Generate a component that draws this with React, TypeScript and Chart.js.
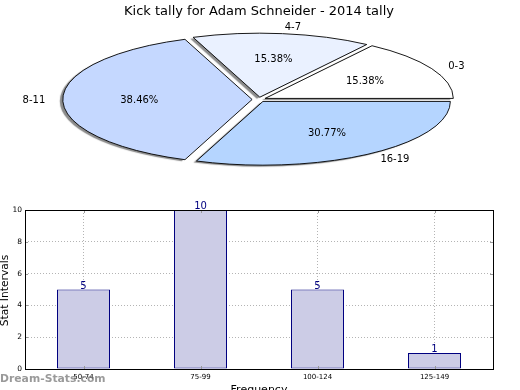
import React, { useEffect, useRef } from 'react';
import { Chart, registerables } from 'chart.js';

Chart.register(...registerables);

// ---------- data ----------
const TITLE = 'Kick tally for Adam Schneider - 2014 tally';
const pieCategories = ['0-3', '4-7', '8-11', '16-19'];
const pieCounts = [2, 2, 5, 4];
const pieColors = ['#FFFFFF', '#EAF1FF', '#C5D8FF', '#B5D5FF'];

const barCategories = ['50-74', '75-99', '100-124', '125-149'];
const barValues = [5, 10, 5, 1];
const yTicks = [0, 2, 4, 6, 8, 10];
const X_TITLE = 'Frequency';
const Y_TITLE = 'Stat Intervals';
const WATERMARK = 'Dream-Stats.com';

const FONT = '"DejaVu Sans", "Liberation Sans", sans-serif';

// ---------- pie (elliptical) ----------
const K = 0.34; // vertical squash
const TY = 99.5; // target centre y

const squashPlugin = {
  id: 'squash',
  beforeDatasetsDraw(chart: any) {
    const ctx = chart.ctx;
    const cy0 = (chart.chartArea.top + chart.chartArea.bottom) / 2;
    ctx.save();
    ctx.translate(0, TY);
    ctx.scale(1, K);
    ctx.translate(0, -cy0);
    ctx.shadowColor = 'rgba(60,60,60,0.6)';
    ctx.shadowOffsetX = -3;
    ctx.shadowOffsetY = 1.5;
    ctx.shadowBlur = 1;
  },
  afterDatasetsDraw(chart: any) {
    const ctx = chart.ctx;
    ctx.restore();
    const cy0 = (chart.chartArea.top + chart.chartArea.bottom) / 2;
    const map = (y: number) => TY + (y - cy0) * K;
    const meta = chart.getDatasetMeta(0);
    const data: number[] = chart.data.datasets[0].data;
    const labels: string[] = chart.data.labels;
    const total = data.reduce((a, b) => a + b, 0);
    meta.data.forEach((arc: any, i: number) => {
      const p = arc.getProps(['x', 'y', 'startAngle', 'endAngle', 'outerRadius'], true);
      const off = (arc.options.offset || 0) / 4;
      const mid = (p.startAngle + p.endAngle) / 2;
      const circ = p.endAngle - p.startAngle;
      const R = p.outerRadius + off * (1 - Math.sin(Math.min(Math.PI, circ)));
      const cx = p.x + Math.cos(mid) * off;
      const cy = p.y + Math.sin(mid) * off;
      // outline with uniform line width
      ctx.save();
      ctx.translate(0, TY);
      ctx.scale(1, K);
      ctx.translate(0, -cy0);
      ctx.beginPath();
      ctx.moveTo(cx, cy);
      ctx.arc(cx, cy, R, p.startAngle, p.endAngle);
      ctx.closePath();
      ctx.restore();
      ctx.save();
      ctx.lineWidth = 0.9;
      ctx.strokeStyle = '#000';
      ctx.lineJoin = 'miter';
      ctx.stroke();
      ctx.restore();

      // labels
      ctx.save();
      ctx.font = `10px ${FONT}`;
      ctx.fillStyle = '#000';
      ctx.textBaseline = 'middle';
      const r = 188;
      const lx = cx + Math.cos(mid) * r * 1.1;
      const ly = map(cy + Math.sin(mid) * r * 1.1) + 0.5;
      ctx.textAlign = Math.cos(mid) >= 0 ? 'left' : 'right';
      ctx.fillText(labels[i], lx, ly);
      const px = cx + Math.cos(mid) * r * 0.6;
      const py = map(cy + Math.sin(mid) * r * 0.6) + 0.5;
      ctx.textAlign = 'center';
      ctx.fillText(((data[i] / total) * 100).toFixed(2) + '%', px, py);
      ctx.restore();
    });
    // title
    ctx.save();
    ctx.font = `13px ${FONT}`;
    ctx.fillStyle = '#000';
    ctx.textAlign = 'center';
    ctx.textBaseline = 'alphabetic';
    ctx.fillText(TITLE, 259, 14.5);
    ctx.restore();
  },
};

// ---------- bar ----------
const barPlugin = {
  id: 'barExtras',
  afterDatasetsDraw(chart: any) {
    const ctx = chart.ctx;
    const meta = chart.getDatasetMeta(0);
    const data: number[] = chart.data.datasets[0].data;
    ctx.save();
    ctx.font = `10px ${FONT}`;
    ctx.fillStyle = '#000080';
    ctx.textAlign = 'center';
    ctx.textBaseline = 'alphabetic';
    meta.data.forEach((bar: any, i: number) => {
      ctx.fillText(String(data[i]), bar.x, bar.y - 1);
    });
    ctx.restore();
  },
  afterDraw(chart: any) {
    const ctx = chart.ctx;
    const a = chart.chartArea;
    const xs = chart.scales.x;
    const ys = chart.scales.y;
    ctx.save();
    // inward tick marks
    ctx.strokeStyle = '#999';
    ctx.lineWidth = 1;
    ctx.beginPath();
    ys.ticks.forEach((t: any) => {
      const y = Math.round(ys.getPixelForValue(t.value)) + 0.5;
      ctx.moveTo(a.left, y);
      ctx.lineTo(a.left + 3, y);
      ctx.moveTo(a.right, y);
      ctx.lineTo(a.right - 3, y);
    });
    xs.ticks.forEach((t: any, i: number) => {
      const x = Math.round(xs.getPixelForTick(i)) + 0.5;
      ctx.moveTo(x, a.bottom);
      ctx.lineTo(x, a.bottom - 3);
      ctx.moveTo(x, a.top);
      ctx.lineTo(x, a.top + 3);
    });
    ctx.stroke();
    // frame
    ctx.strokeStyle = '#000';
    ctx.lineWidth = 1;
    ctx.strokeRect(Math.round(a.left) + 0.5, Math.round(a.top) + 0.5, Math.round(a.right - a.left), Math.round(a.bottom - a.top));
    // axis titles
    ctx.fillStyle = '#000';
    ctx.font = `11px ${FONT}`;
    ctx.textAlign = 'center';
    ctx.textBaseline = 'alphabetic';
    ctx.fillText(X_TITLE, (a.left + a.right) / 2, 193);
    ctx.save();
    ctx.translate(8, (a.top + a.bottom) / 2 + 1);
    ctx.rotate(-Math.PI / 2);
    ctx.font = `10.7px ${FONT}`;
    ctx.fillText(Y_TITLE, 0, 0);
    ctx.restore();
    // watermark
    ctx.font = `bold 10.8px ${FONT}`;
    ctx.fillStyle = 'rgba(120,120,120,0.75)';
    ctx.textAlign = 'left';
    ctx.fillText(WATERMARK, 0, 181.5);
    ctx.restore();
  },
};

export default function App() {
  const pieRef = useRef<HTMLCanvasElement | null>(null);
  const barRef = useRef<HTMLCanvasElement | null>(null);

  useEffect(() => {
    const rev = <T,>(arr: T[]) => arr.slice().reverse();
    const pie = new Chart(pieRef.current!, {
      type: 'pie',
      data: {
        labels: rev(pieCategories),
        datasets: [
          {
            data: rev(pieCounts),
            backgroundColor: rev(pieColors),
            borderWidth: 0,
            offset: 27.6,
            hoverOffset: 0,
            radius: 187,
            rotation: 90,
          } as any,
        ],
      },
      options: {
        responsive: false,
        animation: false,
        radius: 187,
        rotation: 90,
        layout: { padding: { left: 0, right: 2, top: 0, bottom: 0 } },
        plugins: { legend: { display: false }, tooltip: { enabled: false }, title: { display: false } },
        events: [],
      } as any,
      plugins: [squashPlugin],
    });

    const bar = new Chart(barRef.current!, {
      type: 'bar',
      data: {
        labels: barCategories,
        datasets: [
          {
            data: barValues,
            backgroundColor: '#CCCCE6',
            borderColor: '#000080',
            borderWidth: 1,
            borderSkipped: false,
            categoryPercentage: 1,
            barPercentage: 0.453,
          },
        ],
      },
      options: {
        responsive: false,
        animation: false,
        events: [],
        layout: { padding: { left: 0, right: 27, top: 10, bottom: 0 } },
        plugins: { legend: { display: false }, tooltip: { enabled: false } },
        scales: {
          x: {
            z: 1,
            grid: { display: true, offset: false, color: '#b4b4b4', lineWidth: 1, drawTicks: false },
            border: { display: false, dash: [1, 2] },
            ticks: { font: { family: FONT, size: 7 }, color: '#000', padding: 4, maxRotation: 0, autoSkip: false },
            afterFit: (s: any) => {
              s.height = 21;
            },
          },
          y: {
            z: 1,
            min: 0,
            max: 10,
            grid: { color: '#b4b4b4', lineWidth: 1, drawTicks: false },
            border: { display: false, dash: [1, 2] },
            ticks: { font: { family: FONT, size: 7.5 }, color: '#000', padding: 3 },
            afterBuildTicks: (s: any) => {
              s.ticks = yTicks.map((v) => ({ value: v }));
            },
            afterFit: (s: any) => {
              s.width = 25;
            },
          },
        },
      } as any,
      plugins: [barPlugin],
    });

    return () => {
      pie.destroy();
      bar.destroy();
    };
  }, []);

  return (
    <div style={{ position: 'fixed', left: 0, top: 0, width: 520, height: 390, overflow: 'hidden', background: '#fff' }}>
      <canvas ref={pieRef} width={520} height={200} style={{ position: 'absolute', left: 0, top: 0, width: 520, height: 200 }} />
      <canvas ref={barRef} width={520} height={190} style={{ position: 'absolute', left: 0, top: 200, width: 520, height: 190 }} />
    </div>
  );
}
